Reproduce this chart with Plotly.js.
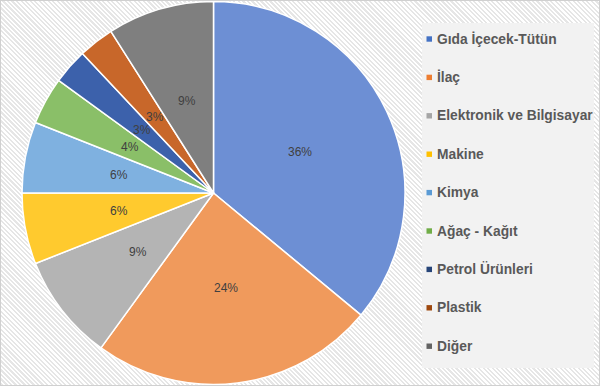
<!DOCTYPE html>
<html><head><meta charset="utf-8">
<script src="https://cdn.plot.ly/plotly-3.0.1.min.js"></script>
<style>
html,body{margin:0;padding:0;background:#fff;}
#chart{position:relative;width:600px;height:386px;background:repeating-linear-gradient(45deg,#ffffff 0px,#ffffff 1.6px,#e6e6e6 1.6px,#e6e6e6 3.2px);}
#chart:after{content:"";position:absolute;left:0;top:0;right:0;bottom:0;border:1px solid #d0d0d0;pointer-events:none;}
</style></head><body><div id="chart"></div>
<script>
const categories = ["Gıda İçecek-Tütün","İlaç","Elektronik ve Bilgisayar","Makine","Kimya","Ağaç - Kağıt","Petrol Ürünleri","Plastik","Diğer"];
const values = [36,24,9,6,6,4,3,3,9];
const sliceColors = ["#6d8fd4","#f09a5c","#b4b4b4","#ffca2e","#7fb1e0","#8abf68","#3c61ab","#c8672a","#7f7f7f"];
const legendColors = ["#4472c4","#ed7d31","#a5a5a5","#ffc000","#5b9bd5","#70ad47","#264478","#9e480e","#636363"];

const W = 600, H = 386;
const legendTop = 39, legendStep = 38.4;
const pieX0 = 22, pieX1 = 405;

const shapes = [{
  type:'rect', xref:'paper', yref:'paper',
  x0:422/W, x1:594/W, y0:1-368/H, y1:1-23/H,
  fillcolor:'#f2f2f2', line:{width:0}, layer:'below'
}];
const annotations = [];
categories.forEach((c,i)=>{
  const yc = 1 - (legendTop + i*legendStep)/H;
  shapes.push({type:'rect', xref:'paper', yref:'paper',
    x0:426.5/W, x1:432/W, y0:yc-2.7/H, y1:yc+2.7/H,
    fillcolor:legendColors[i], line:{width:0}});
  annotations.push({xref:'paper', yref:'paper', x:435/W, y:yc, xanchor:'left', yanchor:'middle',
    text:'<b>'+c+'</b>', showarrow:false,
    font:{family:'Liberation Sans, Arial, sans-serif', size:13.8, color:'#595959'}});
});

// percentage labels placed at half radius along each slice's mid-angle
const total = values.reduce((a,b)=>a+b,0);
const cxPx = (pieX0+pieX1)/2, cyPx = H/2, rPx = Math.min(pieX1-pieX0, H)/2;
let cum = 0;
values.forEach((v)=>{
  const th = 2*Math.PI*(cum + v/2)/total;
  cum += v;
  const px = cxPx + 0.5*rPx*Math.sin(th);
  const py = cyPx - 0.5*rPx*Math.cos(th);
  annotations.push({xref:'paper', yref:'paper', x:px/W, y:1-py/H, xanchor:'center', yanchor:'middle',
    text:Math.round(v/total*100)+'%', showarrow:false,
    font:{family:'Liberation Sans, Arial, sans-serif', size:12, color:'#404040'}});
});

const data = [{
  type:'pie',
  labels:categories,
  values:values,
  sort:false,
  direction:'clockwise',
  rotation:0,
  marker:{colors:sliceColors, line:{color:'#ffffff', width:1.5}},
  textinfo:'none',
  textposition:'none',
  domain:{x:[pieX0/W,pieX1/W], y:[0,1]},
  showlegend:false,
  hoverinfo:'label+percent'
}];

const layout = {
  width:W, height:H,
  margin:{l:0,r:0,t:0,b:0},
  paper_bgcolor:'rgba(0,0,0,0)',
  plot_bgcolor:'rgba(0,0,0,0)',
  showlegend:false,
  shapes:shapes,
  annotations:annotations
};
Plotly.newPlot('chart', data, layout, {displayModeBar:false, staticPlot:true});
</script></body></html>
